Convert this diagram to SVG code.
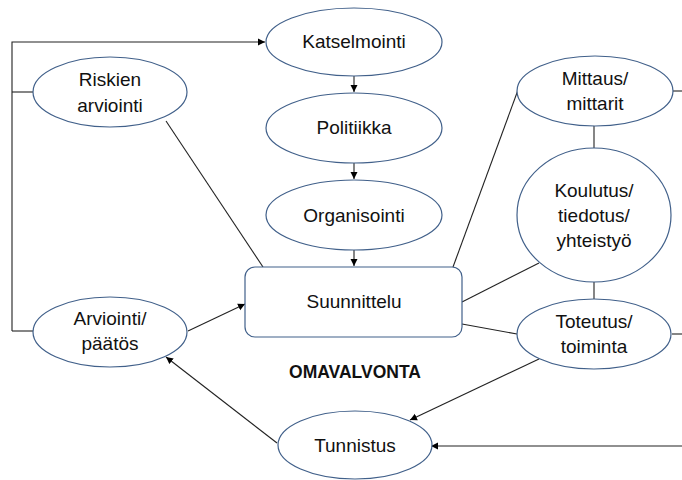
<svg xmlns="http://www.w3.org/2000/svg" width="682" height="480" viewBox="0 0 682 480">
<defs>
<marker id="ah" markerWidth="8" markerHeight="8" refX="7" refY="4" orient="auto" markerUnits="userSpaceOnUse">
<path d="M0,0.5 L7,4 L0,7.5 Z" fill="#000"/>
</marker>
<style>
.n{fill:#fff;stroke:#41608a;stroke-width:1.2}
.t{font-family:"Liberation Sans",Arial,sans-serif;font-size:19px;fill:#111;text-anchor:middle}
.c{stroke:#222;stroke-width:1.1;fill:none}
.a{marker-end:url(#ah)}
</style>
</defs>
<rect width="682" height="480" fill="#fff"/>
<g id="connectors">
<polyline class="c a" points="12,331 12,42 265,42"/>
<line class="c" x1="12" y1="92" x2="33" y2="92"/>
<line class="c" x1="12" y1="331" x2="33" y2="331"/>
<line class="c a" x1="354" y1="76" x2="354" y2="92"/>
<line class="c a" x1="354" y1="163" x2="354" y2="179"/>
<line class="c a" x1="354" y1="250" x2="354" y2="266"/>
<line class="c" x1="166" y1="121" x2="263" y2="267"/>
<line class="c a" x1="188" y1="331" x2="245" y2="304"/>
<line class="c a" x1="277" y1="443" x2="166" y2="357"/>
<line class="c a" x1="539" y1="359" x2="410" y2="420"/>
<line class="c a" x1="682" y1="446" x2="431" y2="446"/>
<line class="c" x1="453" y1="267" x2="518" y2="90"/>
<line class="c" x1="462" y1="302" x2="539" y2="263"/>
<line class="c" x1="462" y1="324" x2="517" y2="334"/>
<line class="c" x1="594" y1="125" x2="594" y2="148"/>
<line class="c" x1="594" y1="282" x2="594" y2="299"/>
<line class="c" x1="672" y1="91" x2="682" y2="91"/>
<line class="c" x1="672" y1="334" x2="682" y2="334"/>
</g>
<g id="katselmointi"><ellipse class="n" cx="354" cy="42" rx="88" ry="34"/><text class="t" x="354" y="48">Katselmointi</text></g>
<g id="politiikka"><ellipse class="n" cx="354" cy="128" rx="88" ry="35"/><text class="t" x="354" y="134">Politiikka</text></g>
<g id="organisointi"><ellipse class="n" cx="354" cy="215" rx="88" ry="35"/><text class="t" x="354" y="222">Organisointi</text></g>
<g id="suunnittelu"><rect class="n" x="245" y="267" width="217" height="70" rx="10"/><text class="t" x="354" y="308">Suunnittelu</text></g>
<g id="riskien"><ellipse class="n" cx="110" cy="92" rx="77" ry="35"/><text class="t" x="110" y="86">Riskien</text><text class="t" x="110" y="112">arviointi</text></g>
<g id="arviointi"><ellipse class="n" cx="110" cy="332" rx="77" ry="35"/><text class="t" x="110" y="325">Arviointi/</text><text class="t" x="110" y="350">päätös</text></g>
<g id="tunnistus"><ellipse class="n" cx="355" cy="445" rx="77" ry="34"/><text class="t" x="355" y="452">Tunnistus</text></g>
<g id="mittaus"><ellipse class="n" cx="595" cy="91" rx="78" ry="35"/><text class="t" x="595" y="85">Mittaus/</text><text class="t" x="595" y="110">mittarit</text></g>
<g id="koulutus"><ellipse class="n" cx="594" cy="215" rx="77" ry="67"/><text class="t" x="594" y="197">Koulutus/</text><text class="t" x="594" y="222">tiedotus/</text><text class="t" x="594" y="247">yhteistyö</text></g>
<g id="toteutus"><ellipse class="n" cx="594" cy="334" rx="77" ry="35"/><text class="t" x="594" y="328">Toteutus/</text><text class="t" x="594" y="353">toiminta</text></g>
<text x="355" y="378" font-family="Liberation Sans,Arial,sans-serif" font-size="17.5" font-weight="bold" text-anchor="middle" fill="#111">OMAVALVONTA</text>
</svg>
